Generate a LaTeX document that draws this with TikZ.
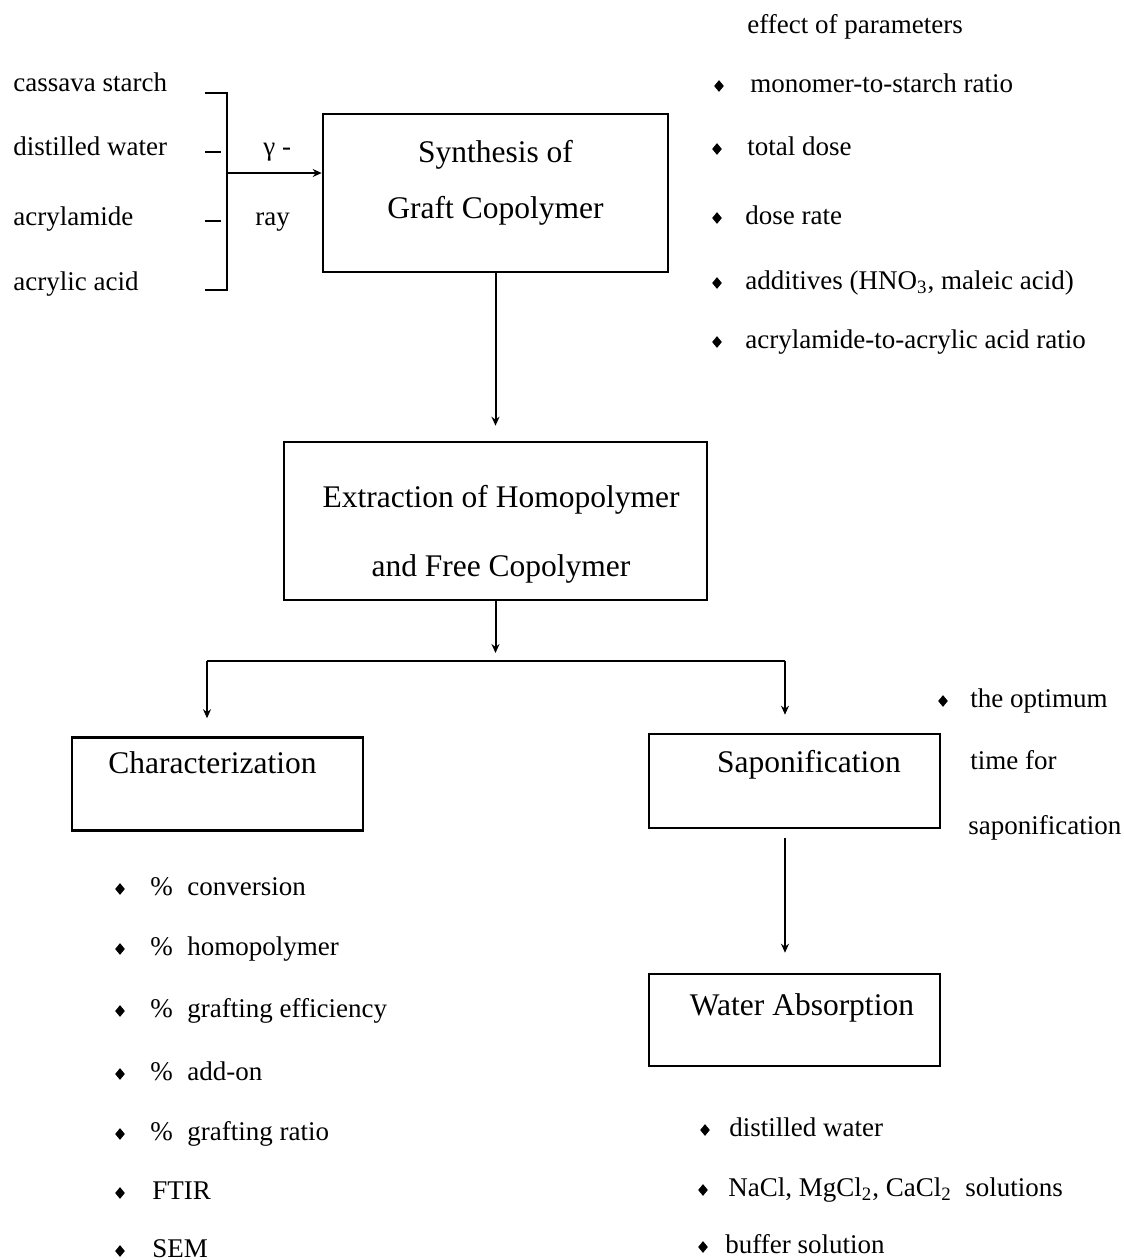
\documentclass[tikz,border=0pt]{standalone}
\usepackage{fontspec}
\setmainfont{Liberation Serif}
\usetikzlibrary{arrows.meta,shapes.geometric,calc}
\newcommand\twoline[3]{\vtop{\baselineskip=#3\relax\halign{\hfil##\hfil\cr#1\cr#2\cr}}}
\begin{document}
\begin{tikzpicture}[x=0.5pt,y=-0.5pt,
  box/.style={draw, line width=1.3pt, rectangle, inner sep=0pt, font=\fontsize{15.75}{18}\selectfont},
  lst/.style={font=\fontsize{13.5}{16}\selectfont, inner sep=0pt, anchor=base west},
  bul/.style={diamond, fill=black, draw=none, inner sep=0pt, minimum width=5pt, minimum height=6pt},
  con/.style={line width=1pt},
  arr/.style={con, -{Stealth[length=4.5pt,width=4pt]}}]
\useasboundingbox (0,0) rectangle (1124,1260);

% boxes
\node[box, minimum width=172.5pt, minimum height=79pt, text height=11pt, text depth=42pt] (syn) at (495.5,193)
  {\twoline{Synthesis of}{Graft Copolymer}{28pt}};
\node[box, minimum width=211.5pt, minimum height=79pt, text height=11pt, text depth=25pt] (ext) at (495.5,521)
  {\kern5.5pt\twoline{Extraction of Homopolymer}{and Free Copolymer}{34.5pt}};
\node[box, minimum width=145.5pt, minimum height=46.5pt, text height=11pt, text depth=22pt] (cha) at (217.5,784)
  {Characterization\kern5pt};
\node[box, minimum width=145.5pt, minimum height=47pt, text height=11pt, text depth=20pt] (sap) at (794.5,781)
  {\kern14.5pt Saponification};
\node[box, minimum width=145.5pt, minimum height=46pt, text height=11pt, text depth=16pt] (wat) at (794.5,1020)
  {\kern7.5pt Water Absorption};

% left inputs
\node[lst] (in1) at (13,91) {cassava starch};
\node[lst] (in2) at (13,155) {distilled water};
\node[lst] (in3) at (13,225) {acrylamide};
\node[lst] (in4) at (13,290) {acrylic acid};
\draw[line width=1.2pt] (205,93) -- (227,93) -- (227,290) -- (205,290);
\draw[line width=1.2pt] (205,152) -- (221,152);
\draw[line width=1.2pt] (205,221) -- (221,221);
\coordinate (brk) at (227,173);
\draw[arr] (brk) -- (brk -| syn.west);
\node[lst] (gam) at (263,155) {γ -};
\node[lst] (ray) at (255,225) {ray};

% main flow
\draw[arr, shorten >=7.5pt] (syn.south) -- (ext.north);
\coordinate (hl) at (207,661);
\coordinate (hr) at (785,661);
\draw[con] (hl) -- (hr);
\draw[arr, shorten >=4pt] (ext.south) -- (ext.south |- hl);
\draw[arr, shorten >=9pt] (hl) -- (hl |- cha.north);
\draw[arr, shorten >=9pt] (hr) -- (hr |- sap.north);
\draw[arr, shorten <=4.5pt, shorten >=10pt] (sap.south -| hr) -- (wat.north -| hr);

% effect of parameters
\node[lst] (eff) at (747,33) {effect of parameters};
\foreach \i/\dx/\tx/\by/\t in {1/719/750/92/{monomer-to-starch ratio},
    2/717/747/155/{total dose},
    3/717/745/224/{dose rate},
    4/717/745/289/{additives (HNO\textsubscript{3}, maleic acid)},
    5/717/745/348/{acrylamide-to-acrylic acid ratio}}{
  \node[bul] (pd\i) at (\dx,\by-6) {};
  \node[lst] (pt\i) at (\tx,\by) {\t};
}

% characterization list
\foreach \i/\tx/\by/\t in {1/150/895/{\%\hspace{7.25pt}conversion},
    2/150/955/{\%\hspace{7.25pt}homopolymer},
    3/150/1017/{\%\hspace{7.25pt}grafting efficiency},
    4/150/1080/{\%\hspace{7.25pt}add-on},
    5/150/1140/{\%\hspace{7.25pt}grafting ratio},
    6/152/1199/{FTIR},
    7/152/1257/{SEM}}{
  \node[bul] (cd\i) at (120,\by-6) {};
  \node[lst] (ct\i) at (\tx,\by) {\t};
}

% saponification note
\node[bul] (sd1) at (943,701) {};
\node[lst] (st1) at (970,707) {the optimum};
\node[lst] (st2) at (970,769) {time for};
\node[lst] (st3) at (968,834) {saponification};

% water absorption list
\foreach \i/\dx/\tx/\by/\t in {1/705/729/1136/{distilled water},
    2/703/728/1196/{NaCl, MgCl\textsubscript{2}, CaCl\textsubscript{2}\ \ solutions},
    3/703/725/1253/{buffer solution}}{
  \node[bul] (wd\i) at (\dx,\by-6) {};
  \node[lst] (wt\i) at (\tx,\by) {\t};
}
\end{tikzpicture}
\end{document}
